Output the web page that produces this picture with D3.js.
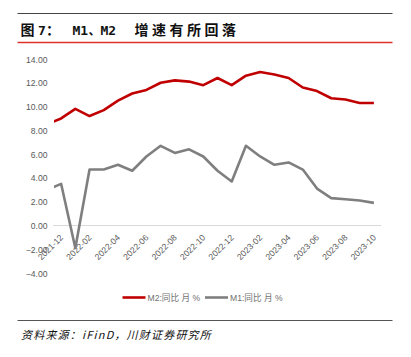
<!DOCTYPE html>
<html><head><meta charset="utf-8">
<script src="https://cdn.jsdelivr.net/npm/d3@7"></script>
<style>
html,body{margin:0;padding:0;background:#fff;}
svg{display:block;}
</style></head>
<body>
<svg id="chart" width="411" height="357"></svg>
<script>
// Data (monthly, 2021-11 .. 2023-10); first month lies just outside the plotted window
const months = ["2021-11","2021-12","2022-01","2022-02","2022-03","2022-04","2022-05","2022-06","2022-07","2022-08","2022-09","2022-10","2022-11","2022-12","2023-01","2023-02","2023-03","2023-04","2023-05","2023-06","2023-07","2023-08","2023-09","2023-10"];
const m2 = [8.5,9.0,9.8,9.2,9.7,10.5,11.1,11.4,12.0,12.2,12.1,11.8,12.4,11.8,12.6,12.9,12.7,12.4,11.6,11.3,10.7,10.6,10.3,10.3];
const m1 = [3.0,3.5,-1.9,4.7,4.7,5.1,4.6,5.8,6.7,6.1,6.4,5.8,4.6,3.7,6.7,5.8,5.1,5.3,4.7,3.1,2.3,2.2,2.1,1.9];
const xTickLabels = ["2021-12","2022-02","2022-04","2022-06","2022-08","2022-10","2022-12","2023-02","2023-04","2023-06","2023-08","2023-10"];
const yTicks = [-4,-2,0,2,4,6,8,10,12,14];
const seriesNames = ["M2:同比 月 %","M1:同比 月 %"];
const titleParts = [
  {t:"图", x:20.5, mono:false, fs:14},
  {t:"7", x:38, mono:true, fs:13},
  {t:"：", x:46, mono:false, fs:14},
  {t:"M1", x:72.5, mono:true, fs:13},
  {t:"、", x:88.5, mono:false, fs:12},
  {t:"M2", x:100.5, mono:true, fs:13},
  {t:"增速有所回落", x:134.5, mono:false, fs:14}
];
const source = "资料来源：iFinD，川财证券研究所";

const svg = d3.select("#chart");
const L = 54, R = 381, T = 59, B = 273;

const x = d3.scaleLinear().domain([0.5, months.length - 0.5]).range([L, R]);
const y = d3.scaleLinear().domain([-4, 14]).range([B, T]);

// header rules and title
svg.append("line").attr("x1",17.5).attr("x2",392.5).attr("y1",13.5).attr("y2",13.5).attr("stroke","#444").attr("stroke-width",1);
titleParts.forEach(p=>{
  svg.append("text").attr("x",p.x).attr("y",34.5).text(p.t)
    .attr("font-weight","bold").attr("font-size",p.fs).attr("fill","#111")
    .attr("font-family", p.mono ? "'DejaVu Sans Mono', monospace" : "'Noto Sans CJK SC'")
    .attr("letter-spacing", p.t.length > 2 ? 3.5 : 0);
});
svg.append("line").attr("x1",17.5).attr("x2",392.5).attr("y1",42.5).attr("y2",42.5).attr("stroke","#e0302a").attr("stroke-width",1.5);

// zero line
svg.append("line").attr("x1",L-1).attr("x2",R).attr("y1",Math.round(y(0))+0.5).attr("y2",Math.round(y(0))+0.5)
  .attr("stroke","#d9d9d9").attr("stroke-width",1);

// y axis
const yAxis = d3.axisLeft(y).tickValues(yTicks).tickFormat(d3.format(".2f")).tickSize(0).tickPadding(0);
const gy = svg.append("g").attr("transform",`translate(${47.5},0)`).call(yAxis);
gy.select(".domain").remove();
gy.selectAll("text").attr("font-family","'Liberation Sans', Arial, sans-serif").attr("font-size",8.6).attr("fill","#595959").attr("dy","0.35em");

// x axis labels
const idx = m => months.indexOf(m);
const xAxis = d3.axisBottom(x).tickValues(xTickLabels.map(idx)).tickFormat(i => months[i]).tickSize(0);
const gx = svg.append("g").attr("transform",`translate(0,${236})`).call(xAxis);
gx.select(".domain").remove();
gx.selectAll("text").attr("font-family","'Liberation Sans', Arial, sans-serif").attr("font-size",8.6).attr("fill","#595959")
  .attr("text-anchor","end").attr("dy","0.35em").attr("y",0)
  .attr("transform","rotate(-45)");

// clip
svg.append("clipPath").attr("id","plotclip").append("rect").attr("x",L).attr("y",0).attr("width",R-L).attr("height",357);

const line = d3.line().x((d,i)=>x(i)).y(d=>y(d));
const g = svg.append("g").attr("clip-path","url(#plotclip)");
g.append("path").datum(m2).attr("d",line).attr("fill","none").attr("stroke","#c00000").attr("stroke-width",2.6).attr("stroke-linejoin","round");
g.append("path").datum(m1).attr("d",line).attr("fill","none").attr("stroke","#7f7f7f").attr("stroke-width",2.6).attr("stroke-linejoin","round");

// legend
const legend = [{name:seriesNames[0],color:"#c00000",x0:122.5},{name:seriesNames[1],color:"#7f7f7f",x0:205}];
legend.forEach(l=>{
  svg.append("line").attr("x1",l.x0).attr("x2",l.x0+23).attr("y1",297.5).attr("y2",297.5).attr("stroke",l.color).attr("stroke-width",2.6);
  svg.append("text").attr("x",l.x0+25).attr("y",297.5).attr("dy","0.35em").text(l.name)
    .attr("font-family","'Liberation Sans','Noto Sans CJK SC',sans-serif").attr("font-size",8.6).attr("fill","#707070");
});

// footer
svg.append("line").attr("x1",17.5).attr("x2",392.5).attr("y1",320.5).attr("y2",320.5).attr("stroke","#555").attr("stroke-width",1);
svg.append("text").attr("x",21).attr("y",339).text(source)
  .attr("font-family","'Noto Sans CJK SC'").attr("font-style","italic").attr("font-size",11)
  .attr("letter-spacing",1.2).attr("fill","#111");
</script>
</body></html>
